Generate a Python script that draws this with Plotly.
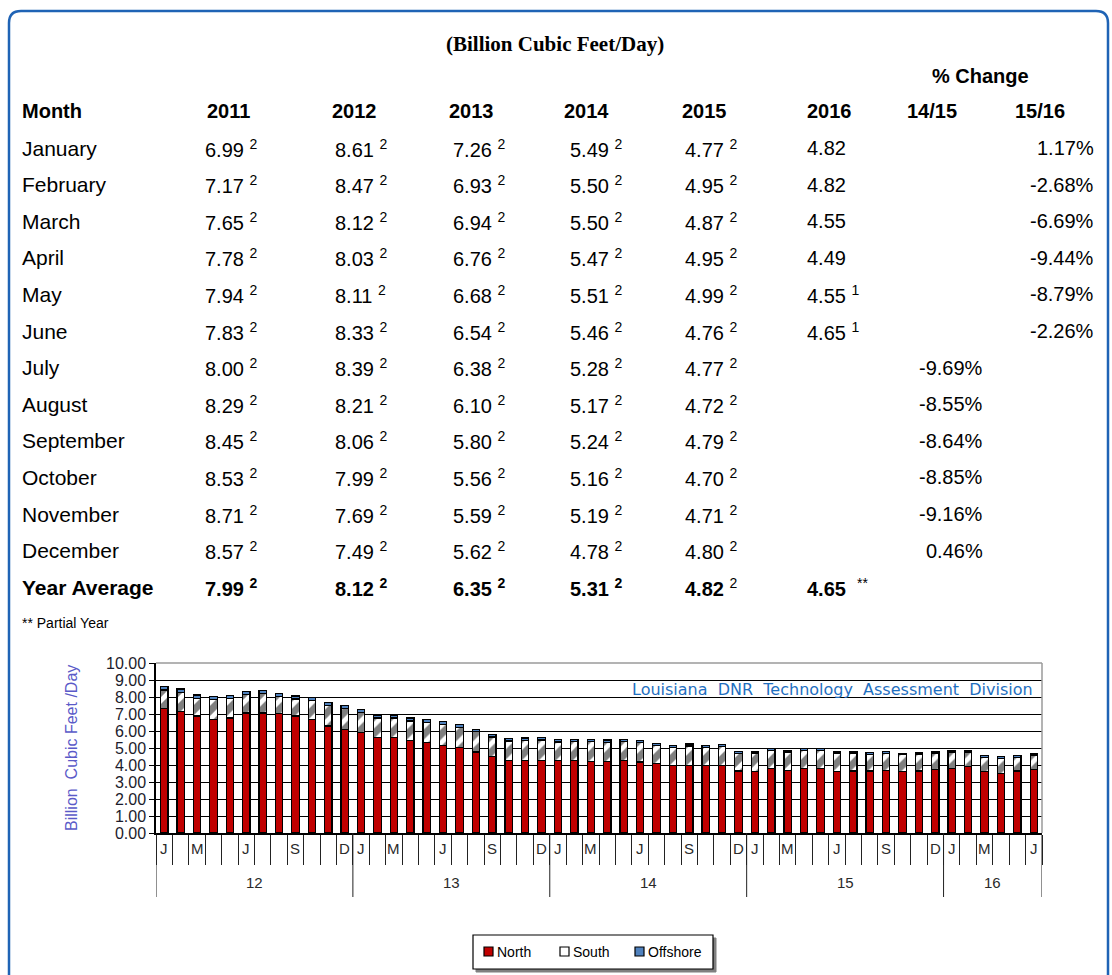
import plotly.graph_objects as go

# ---------------- data ----------------
month_letters = ["J", "", "M", "", "", "J", "", "", "S", "", "", "D"]
chart_years = ["12", "13", "14", "15", "16"]
months_per_year = [12, 12, 12, 12, 6]
series_names = ["North", "South", "Offshore"]

north_vals = [7.33, 7.14, 6.88, 6.66, 6.76, 7.06, 7.06, 7.04, 6.88, 6.66, 6.29, 6.07,
              5.91, 5.62, 5.62, 5.44, 5.34, 5.13, 5.05, 4.77, 4.48, 4.28, 4.28, 4.28,
              4.28, 4.28, 4.20, 4.20, 4.28, 4.18, 4.08, 3.99, 3.99, 3.99, 3.99, 3.65,
              3.61, 3.81, 3.69, 3.81, 3.81, 3.61, 3.65, 3.65, 3.69, 3.61, 3.65, 3.75,
              3.81, 3.91, 3.61, 3.51, 3.65, 3.75]
south_vals = [1.08, 1.13, 1.05, 1.18, 1.16, 1.08, 1.14, 0.99, 1.00, 1.15, 1.22, 1.24,
              1.17, 1.14, 1.15, 1.15, 1.18, 1.25, 1.17, 1.18, 1.17, 1.13, 1.16, 1.19,
              1.07, 1.08, 1.16, 1.14, 1.10, 1.15, 1.08, 1.06, 1.13, 1.05, 1.08, 1.02,
              1.06, 1.04, 1.08, 1.04, 1.03, 1.05, 1.02, 0.97, 1.00, 1.00, 0.97, 0.96,
              0.92, 0.82, 0.85, 0.89, 0.81, 0.81]
offshore_vals = [0.20, 0.20, 0.19, 0.19, 0.19, 0.19, 0.19, 0.18, 0.18, 0.18, 0.18, 0.18,
                 0.18, 0.17, 0.17, 0.17, 0.16, 0.16, 0.16, 0.15, 0.15, 0.15, 0.15, 0.15,
                 0.14, 0.14, 0.14, 0.13, 0.13, 0.13, 0.12, 0.12, 0.12, 0.12, 0.12, 0.11,
                 0.10, 0.10, 0.10, 0.10, 0.15, 0.10, 0.10, 0.10, 0.10, 0.09, 0.09, 0.09,
                 0.09, 0.09, 0.09, 0.09, 0.09, 0.09]

table_months = ["January", "February", "March", "April", "May", "June", "July",
                "August", "September", "October", "November", "December"]
table_years = ["2011", "2012", "2013", "2014", "2015", "2016"]
val_2011 = [6.99, 7.17, 7.65, 7.78, 7.94, 7.83, 8.00, 8.29, 8.45, 8.53, 8.71, 8.57]
val_2012 = [8.61, 8.47, 8.12, 8.03, 8.11, 8.33, 8.39, 8.21, 8.06, 7.99, 7.69, 7.49]
val_2013 = [7.26, 6.93, 6.94, 6.76, 6.68, 6.54, 6.38, 6.10, 5.80, 5.56, 5.59, 5.62]
val_2014 = [5.49, 5.50, 5.50, 5.47, 5.51, 5.46, 5.28, 5.17, 5.24, 5.16, 5.19, 4.78]
val_2015 = [4.77, 4.95, 4.87, 4.95, 4.99, 4.76, 4.77, 4.72, 4.79, 4.70, 4.71, 4.80]
val_2016 = [4.82, 4.82, 4.55, 4.49, 4.55, 4.65]
note_2016 = ["", "", "", "", "1", "1"]
year_avg = [7.99, 8.12, 6.35, 5.31, 4.82, 4.65]
avg_note = ["2", "2", "2", "2", "2", "**"]
pct_1415 = ["", "", "", "", "", "", "-9.69%", "-8.55%", "-8.64%", "-8.85%", "-9.16%", "0.46%"]
pct_1516 = ["1.17%", "-2.68%", "-6.69%", "-9.44%", "-8.79%", "-2.26%"]

# ---------------- geometry helpers ----------------
W, H = 1112, 975
L, R, T, B = 156, 70, 663, 142
PW = W - L - R
PH = H - T - B


def fx(px):
    return (px - L) / PW


def fy(py):
    return (H - B - py) / PH


ARIAL = "Arial, Liberation Sans, sans-serif"
n = len(north_vals)
xs = list(range(n))

RED, BLUE = "#c00000", "#4f81bd"

fig = go.Figure()
fig.add_trace(go.Bar(x=xs, y=north_vals, name=series_names[0],
                     marker=dict(color=RED, line=dict(color="black", width=1.2))))
fig.add_trace(go.Bar(x=xs, y=south_vals, name=series_names[1],
                     marker=dict(color="white", line=dict(color="black", width=1.2),
                                 pattern=dict(shape="/", fgcolor="black", bgcolor="white",
                                              size=12, solidity=0.6))))
fig.add_trace(go.Bar(x=xs, y=offshore_vals, name=series_names[2],
                     marker=dict(color=BLUE, line=dict(color="black", width=1.2))))

ann = []
shapes = []


def txt(px, py, text, size=20, anchor="left", bold=False, family=ARIAL, color="black"):
    if bold:
        text = "<b>" + text + "</b>"
    ann.append(dict(x=fx(px), y=fy(py), xref="paper", yref="paper", text=text,
                    showarrow=False, xanchor=anchor, yanchor="middle",
                    font=dict(size=size, family=family, color=color)))


def rect(px0, py0, px1, py1, fill, line="black", width=1):
    shapes.append(dict(type="rect", xref="paper", yref="paper",
                       x0=fx(px0), x1=fx(px1), y0=fy(py1), y1=fy(py0),
                       fillcolor=fill, line=dict(color=line, width=width), layer="above"))


# title
txt(555, 44, "(Billion Cubic Feet/Day)", size=21, anchor="center", bold=True,
    family="Times New Roman, Liberation Serif, serif")
txt(980, 76, "% Change", size=20, anchor="center", bold=True)

# header row
hdr_y = 111
txt(20, hdr_y, "Month", bold=True)
hdr_x = [205, 330, 447, 562, 680, 805]
for hx, yr in zip(hdr_x, table_years):
    txt(hx, hdr_y, yr, bold=True)
txt(905, hdr_y, "14/15", bold=True)
txt(1013, hdr_y, "15/16", bold=True)

val_x = [203, 333, 451, 568, 683, 805]
row0, step = 148, 36.6
cols = [val_2011, val_2012, val_2013, val_2014, val_2015]
for i, m in enumerate(table_months):
    ry = row0 + i * step
    txt(20, ry, m, size=21)
    for c, col in enumerate(cols):
        txt(val_x[c], ry, "%.2f <sup>2</sup>" % col[i])
    if i < len(val_2016):
        s = "%.2f" % val_2016[i]
        if note_2016[i]:
            s += " <sup>%s</sup>" % note_2016[i]
        txt(val_x[5], ry, s)
    if pct_1415[i]:
        txt(985, ry, pct_1415[i], anchor="right")
    if i < len(pct_1516):
        txt(1096, ry, pct_1516[i], anchor="right")

avg_y = row0 + 12 * step
txt(20, avg_y, "Year Average", size=21, bold=True)
for c, v in enumerate(year_avg):
    if c < 4:
        s = "<b>%.2f <sup>%s</sup></b>" % (v, avg_note[c])
    elif c == 4:
        s = "<b>%.2f</b> <sup>%s</sup>" % (v, avg_note[c])
    else:
        s = "<b>%.2f</b>  <sup>%s</sup>" % (v, avg_note[c])
    txt(val_x[c], avg_y, s)
txt(20, 623, "** Partial Year", size=14)

# y axis title
ann.append(dict(x=fx(71), y=fy(748), xref="paper", yref="paper",
                text="Billion  Cubic Feet /Day", textangle=-90, showarrow=False,
                xanchor="center", yanchor="middle",
                font=dict(size=16, family=ARIAL, color="#5a5ac8")))

# watermark
ann.append(dict(x=fx(1035), y=fy(689), xref="paper", yref="paper",
                text="Louisiana  DNR  Technology  Assessment  Division", showarrow=False,
                xanchor="right", yanchor="middle",
                font=dict(size=16, family="DejaVu Sans, Verdana, sans-serif", color="#1f6fbf")))

# month letters and year labels on the category axis
k = 0
year_bounds = [-0.5]
for yr, cnt in zip(chart_years, months_per_year):
    for j in range(cnt):
        if month_letters[j]:
            ann.append(dict(x=k + j, y=fy(848), xref="x", yref="paper", text=month_letters[j],
                            showarrow=False, xanchor="center", yanchor="middle",
                            font=dict(size=15, family=ARIAL, color="#2a2a2a")))
    ann.append(dict(x=k + (cnt - 1) / 2, y=fy(882), xref="x", yref="paper", text=yr,
                    showarrow=False, xanchor="center", yanchor="middle",
                    font=dict(size=15, family=ARIAL, color="#2a2a2a")))
    k += cnt
    year_bounds.append(k - 0.5)

for b in year_bounds:
    shapes.append(dict(type="line", xref="x", yref="paper", x0=b, x1=b, y0=0, y1=fy(897),
                       line=dict(color="#222", width=1)))

# grey top & right frame of the plot area
shapes.append(dict(type="line", xref="paper", yref="paper", x0=0, x1=1, y0=1, y1=1,
                   line=dict(color="#9a9a9a", width=1.5), layer="above"))
shapes.append(dict(type="line", xref="paper", yref="paper", x0=1, x1=1, y0=0, y1=1,
                   line=dict(color="#9a9a9a", width=1.5), layer="above"))

# legend box (drawn by hand so it does not push the plot margins)
rect(476, 938, 716, 972, "#808080", line="#808080")          # shadow
rect(473, 935, 713, 969, "white", line="black", width=1.2)
leg_items = [(484, series_names[0], RED), (560, series_names[1], "white"),
             (635, series_names[2], BLUE)]
for lx, name, col in leg_items:
    rect(lx, 947, lx + 9, 956, col, line="black", width=1.2)
    txt(lx + 11, 952, name, size=14)

# outer rounded blue frame
x0, x1, y0, yb, r = 9, 1108, 11, 990, 12
path = ("M {a},{b} L {a},{c} Q {a},{d} {e},{d} L {f},{d} Q {g},{d} {g},{c} L {g},{b}"
        .format(a=fx(x0), b=fy(yb), c=fy(y0 + r), d=fy(y0), e=fx(x0 + r),
                f=fx(x1 - r), g=fx(x1)))
shapes.append(dict(type="path", xref="paper", yref="paper", path=path,
                   line=dict(color="#1f63b5", width=2.5)))

fig.update_layout(
    width=W, height=H,
    margin=dict(l=L, r=R, t=T, b=B, pad=0),
    paper_bgcolor="white", plot_bgcolor="white",
    barmode="stack", bargap=0.55,
    annotations=ann, shapes=shapes,
    showlegend=False,
    xaxis=dict(range=[-0.5, n - 0.5], tickmode="array",
               tickvals=[i - 0.5 for i in range(n + 1)], ticks="outside", ticklen=30,
               tickcolor="#222", tickwidth=1, showticklabels=False, showgrid=False,
               zeroline=False, showline=True, linecolor="black", linewidth=1.5),
    yaxis=dict(range=[0, 10], tickmode="array", tickvals=list(range(11)),
               tickformat=".2f", ticks="outside", ticklen=5, tickcolor="black",
               showgrid=True, gridcolor="black", gridwidth=1.2, zeroline=False,
               showline=True, linecolor="black", linewidth=1.5,
               tickfont=dict(size=16, family=ARIAL, color="#1c1c2c")),
    hovermode=False,
)

fig.write_html("out.html", config={"displayModeBar": False},
               post_script="document.body.style.margin='0px';"
                           "document.body.style.overflow='hidden';")
